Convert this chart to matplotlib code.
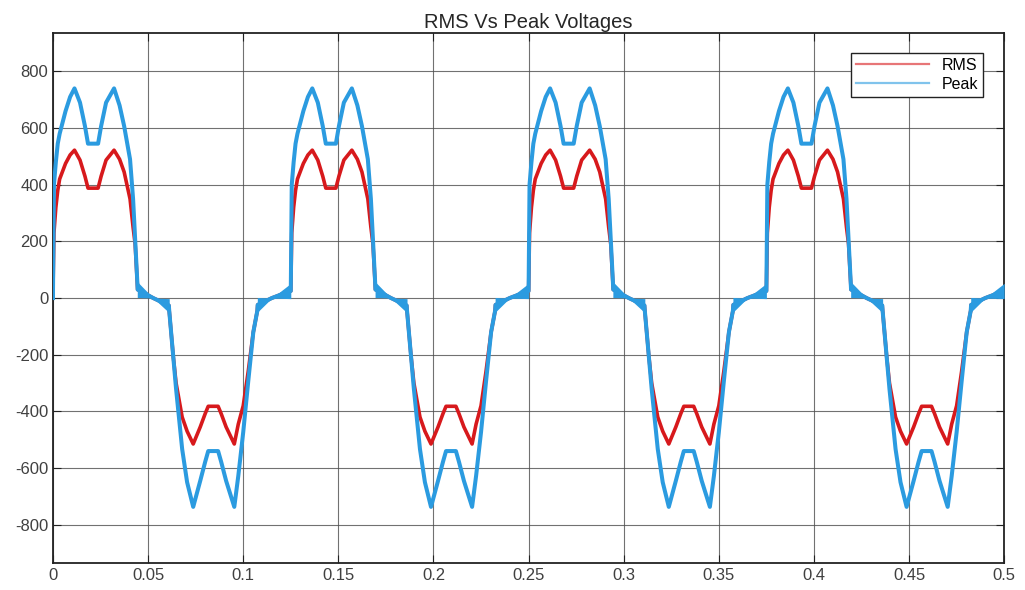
"""RMS- und Peak-Spannung ueber der Zeit (MATLAB-artiger Plot)."""

import matplotlib

matplotlib.use("Agg")
import matplotlib.pyplot as plt
import numpy as np
from matplotlib.ticker import FuncFormatter

plt.rcParams["font.family"] = ["Liberation Sans", "DejaVu Sans"]
plt.rcParams["axes.unicode_minus"] = False

# Startzeiten der vier Perioden (s)
CYCLE_STARTS = [0.0, 0.125, 0.25, 0.375]
START_POINT = (0.0, 0.0)

PEAK_T = [0.0000, 0.0005, 0.0015, 0.0025, 0.0035, 0.0066, 0.0090, 0.0113,
          0.0142, 0.0168, 0.0184, 0.0237, 0.0253, 0.0279, 0.0321,
          0.0350, 0.0374, 0.0405, 0.0421, 0.0432, 0.0443,
          0.0445, 0.0527, 0.0609,
          0.0611, 0.0632, 0.0647, 0.0679, 0.0705, 0.0737,
          0.0774, 0.0800, 0.0816, 0.0868, 0.0884, 0.0910, 0.0953,
          0.0974, 0.1000, 0.1026, 0.1053, 0.1074,
          0.1076, 0.1150, 0.1248]
PEAK_V = [25, 400, 480, 545, 580, 660, 710, 740,
          690, 607, 545, 545, 607, 690, 740,
          680, 607, 490, 350, 208, 60,
          30, 0, -26,
          -45, -205, -321, -533, -650, -737,
          -645, -578, -540, -540, -578, -645, -737,
          -628, -473, -296, -120, -45,
          -24, 0, 25]

RMS_T = PEAK_T
RMS_V = [25, 230, 320, 380, 420, 475, 505, 522,
         487, 430, 388, 388, 430, 487, 522,
         490, 445, 350, 250, 190, 60,
         30, 0, -26,
         -45, -205, -300, -420, -470, -515,
         -455, -408, -382, -382, -408, -455, -515,
         -445, -380, -260, -120, -45,
         -24, 0, 25]

# Rausch-Band in den Nulldurchgangs-Bereichen (relativ zum Periodenbeginn)
BAND_T = [0.0443, 0.0527, 0.0611, 0.1074, 0.1150, 0.1250]
BAND_UP = [58, 0, -2, 2, 0, 52]
BAND_LO = [2, 0, -52, -50, 0, -2]

RMS_COLOR = "#d7191c"
PEAK_COLOR = "#2b9be0"


def build_series(t_rel, values):
    t = [START_POINT[0]]
    v = [START_POINT[1]]
    for start in CYCLE_STARTS:
        t.extend(start + np.asarray(t_rel))
        v.extend(values)
    return np.array(t), np.array(v)


def main():
    fig = plt.figure(figsize=(10.25, 5.9), dpi=100, facecolor="white")
    ax = fig.add_axes([0.0517, 0.0458, 0.928, 0.898])

    t_rms, v_rms = build_series(RMS_T, RMS_V)
    t_peak, v_peak = build_series(PEAK_T, PEAK_V)

    ax.plot(t_rms, v_rms, color=RMS_COLOR, linewidth=2.6, label="RMS", zorder=2)
    ax.plot(t_peak, v_peak, color=PEAK_COLOR, linewidth=2.9, label="Peak", zorder=3)

    # Rauschband als Keile
    for start in CYCLE_STARTS:
        for i in (0, 3):
            seg = slice(i, i + 3)
            ax.fill_between(
                start + np.asarray(BAND_T[seg]), BAND_LO[seg], BAND_UP[seg],
                color=PEAK_COLOR, linewidth=0, zorder=3,
            )

    ax.set_xlim(0, 0.5)
    ax.set_ylim(-935, 935)
    ax.set_xticks(np.arange(0, 0.501, 0.05))
    ax.set_yticks(np.arange(-800, 801, 200))
    ax.xaxis.set_major_formatter(FuncFormatter(lambda x, _: f"{x:g}"))
    ax.grid(True, color="0.3", linewidth=0.8, alpha=0.8)
    ax.set_axisbelow(True)
    ax.tick_params(direction="in", top=True, right=True, length=6,
                   labelsize=12, labelcolor="#404040", color="#222222")
    for sp in ax.spines.values():
        sp.set_color("#222222")
        sp.set_linewidth(1.3)

    ax.set_title("RMS Vs Peak Voltages", fontsize=14.5, color="#262626", pad=4)

    leg = ax.legend(
        loc="upper right", bbox_to_anchor=(0.978, 0.962), borderaxespad=0,
        fontsize=11.5, fancybox=False, edgecolor="#222222", framealpha=1,
        handlelength=4.6, labelspacing=0.25, borderpad=0.3,
    )
    leg.set_zorder(5)
    leg.get_frame().set_linewidth(1.0)
    for line in leg.get_lines():
        line.set_linewidth(1.6)
        line.set_alpha(0.6)

    fig.savefig("out.png", dpi=100, facecolor="white")
    plt.close(fig)


if __name__ == "__main__":
    main()
